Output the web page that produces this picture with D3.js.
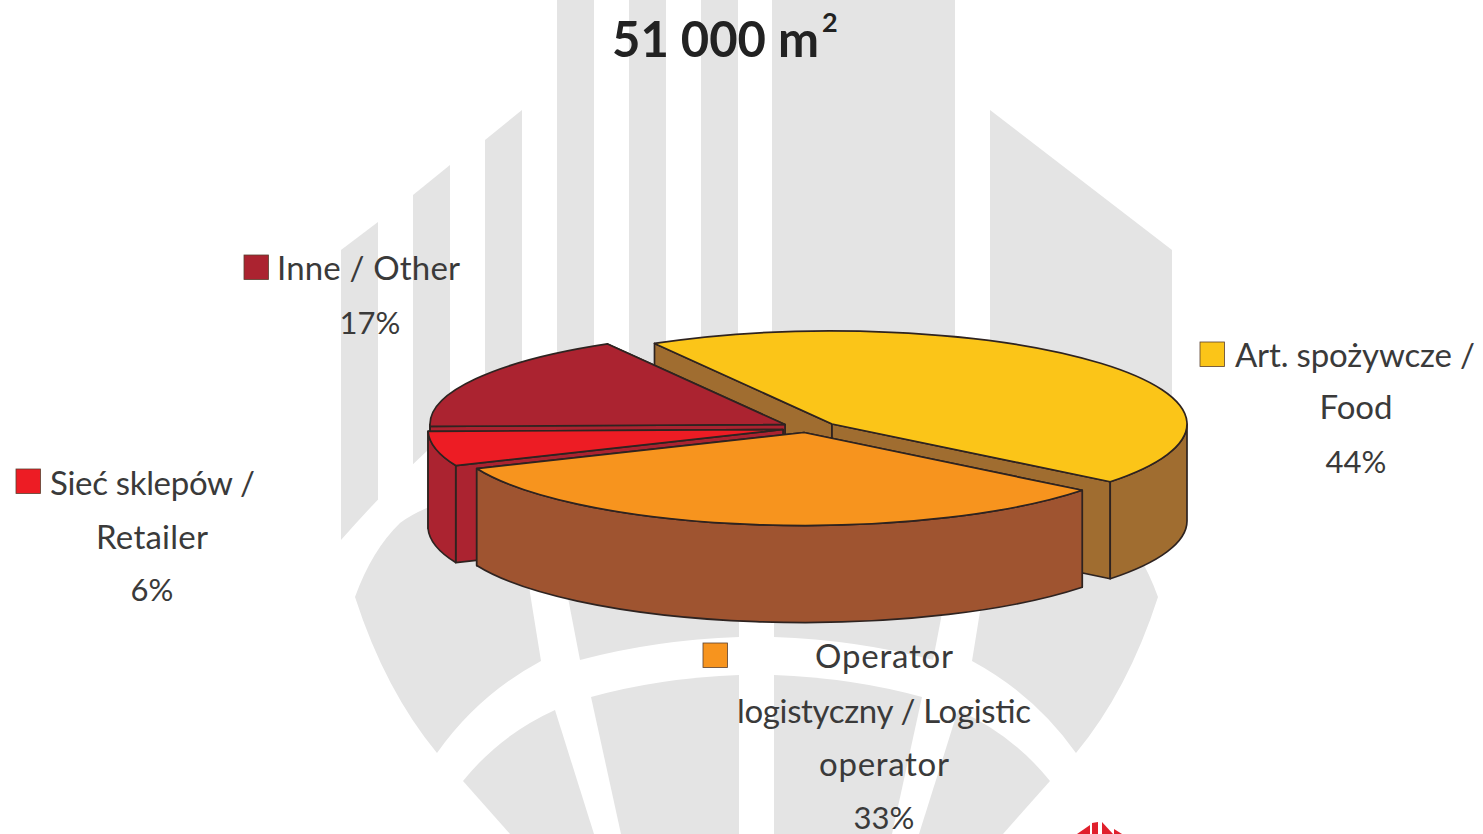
<!DOCTYPE html>
<html><head><meta charset="utf-8">
<script src="https://cdn.jsdelivr.net/npm/d3@7"></script>
<style>html,body{margin:0;padding:0;background:#fff;overflow:hidden}svg{display:block}text{font-family:Lato,"Open Sans",sans-serif;fill:#3a3a3a}</style>
</head><body><div id="chart"></div>
<script>
// ---- data ----
const categories = ["Art. spożywcze / Food","Operator logistyczny / Logistic operator","Sieć sklepów / Retailer","Inne / Other"];
const values = [44,33,6,17];
const topColors = ["#fbc518","#f7941e","#ed1c24","#ab2330"];
const sideColors = ["#a06d30","#9f5430","#ab2330","#ab2330"];
const title = "51 000 m";
const titleSup = "2";

// ---- layout ----
const W=1483,H=834, cx=786, cy=425, rx=355, ry=93, depth=97, ink="#2e2320";
const explode = [[46,-1],[18,7.5],[-3,4.5],[-1,-.5]];
const svg=d3.select("#chart").append("svg").attr("width",W).attr("height",H);

// ---- faded logo behind the chart ----
const logo=svg.append("g").attr("fill","#e4e4e4");
[[341,378,250,222],[413,450,195,165],[485,522,140,110],[557,594,0,0],[629,666,0,0],[701,738,0,0],[772,955,0,0],[990,1172,110,250]]
 .forEach(([a,b,t0,t1])=>logo.append("path").attr("d",`M${a},${t0}L${b},${t1}L${b},560L${a},560Z`));
logo.append("path").attr("fill","#fff").attr("d","M330,552L341,540Q385,490 428,450Q560,400 756,400Q950,400 1085,450Q1130,490 1172,540L1183,552L1183,600L330,600Z");
const half=logo.append("g"), half2=logo.append("g").attr("transform","translate(1513,0) scale(-1,1)");
[half,half2].forEach(g=>{
  ["M355,597Q372,550 400,523Q430,500 520,480L530,593L541,661Q478,695 437,753Q385,690 355,597Z",
   "M560,560L569,603L580,660Q655,640 739,637L739,560Z",
   "M463,781Q500,735 555,710L594,834L510,834Z",
   "M591,697Q660,678 739,675L739,834L621,834Z"].forEach(d=>g.append("path").attr("d",d));
});
const mark=svg.append("g").attr("fill","#e0202c");
["M1077,834L1090,825L1090,834Z","M1092,823L1098,822L1098,834L1092,834Z","M1102,822L1113,834L1102,834Z","M1114,829L1122,834L1114,834Z"]
 .forEach(d=>mark.append("path").attr("d",d));

// ---- pie ----
const pie=d3.pie().sort(null).value(d=>d).startAngle(-Math.PI/6).endAngle(2*Math.PI-Math.PI/6);
const arcs=pie(values);
const sx=d3.scaleLinear().domain([-1,1]).range([-rx,rx]);
const sy=d3.scaleLinear().domain([-1,1]).range([-ry,ry]);
const toT=a=>a-Math.PI/2;   // pie angle -> screen angle
const P=(t,o)=>[cx+o[0]+sx(Math.cos(t)),cy+o[1]+sy(Math.sin(t))];
const apex=o=>[cx+o[0],cy+o[1]];
const g=svg.append("g").attr("stroke",ink).attr("stroke-width",1.7).attr("stroke-linejoin","round");

function topPath(t0,t1,o){const a=P(t0,o),b=P(t1,o),c=apex(o);
  return `M${c}L${a}A${rx},${ry} 0 ${t1-t0>Math.PI?1:0} 1 ${b}Z`;}
function cutPath(t,o){const a=P(t,o),c=apex(o);
  return `M${c}L${a}L${a[0]},${a[1]+depth}L${c[0]},${c[1]+depth}Z`;}
function wallPath(t0,t1,o){const a=P(t0,o),b=P(t1,o);
  return `M${a}A${rx},${ry} 0 0 1 ${b}L${b[0]},${b[1]+depth}A${rx},${ry} 0 0 0 ${a[0]},${a[1]+depth}Z`;}
function front(t0,t1){ // visible parts of the outer wall (screen angle 0..180deg)
  const out=[],ranges=[[0,Math.PI],[2*Math.PI,3*Math.PI]];
  ranges.forEach(([a,b])=>{const s=Math.max(t0,a),e=Math.min(t1,b);if(e>s)out.push([s,e]);});
  return out;}

// paint order: back slice first, exploded front slice last
[0,3,2,1].forEach(i=>{
  const d=arcs[i],o=explode[i],t0=toT(d.startAngle),t1=toT(d.endAngle),side=sideColors[i];
  const s=g.append("g");
  [t0,t1].sort((a,b)=>Math.sin(a)-Math.sin(b)).forEach(t=>s.append("path").attr("d",cutPath(t,o)).attr("fill",side));
  front(t0,t1).forEach(([a,b])=>s.append("path").attr("d",wallPath(a,b,o)).attr("fill",side));
  s.append("path").attr("d",topPath(t0,t1,o)).attr("fill",topColors[i]);
});

// ---- title ----
const fs=33;
svg.append("text").attr("x",612).attr("y",57).attr("font-size",49).attr("font-weight",700).style("fill","#222").text(title);
svg.append("text").attr("x",822).attr("y",32).attr("font-size",27).attr("font-weight",700).style("fill","#222").text(titleSup);

// ---- labels ----
const labelLines=[["Art. spożywcze /","Food"],["Operator","logistyczny / Logistic","operator"],["Sieć sklepów /","Retailer"],["Inne / Other"]];
const labelLayout=[
 {sw:[1200,342],first:1235,cx:1356,base:[367,419,473],w:[240,73]},
 {sw:[703,643],cx:884,base:[668,723,776,829],w:[138,294,130]},
 {sw:[16,469],first:50,cx:152,base:[495,549,601],w:[205,112]},
 {sw:[244,255],first:277,cx:370,base:[280,334],w:[183]}];
labelLayout.forEach((l,i)=>{
  svg.append("rect").attr("x",l.sw[0]).attr("y",l.sw[1]).attr("width",24.5).attr("height",24.5)
    .attr("fill",topColors[i]).attr("stroke","#5a4030").attr("stroke-width",.8);
  const lines=[...labelLines[i],values[i]+"%"];
  lines.forEach((t,j)=>{
    const e=svg.append("text").attr("y",l.base[j]).attr("font-size",j===lines.length-1?31:fs).text(t);
    if(l.w[j]) e.attr("textLength",l.w[j]);
    if(j===0&&l.first!==undefined) e.attr("x",l.first);
    else e.attr("x",l.cx).attr("text-anchor","middle");
  });
});
</script></body></html>
